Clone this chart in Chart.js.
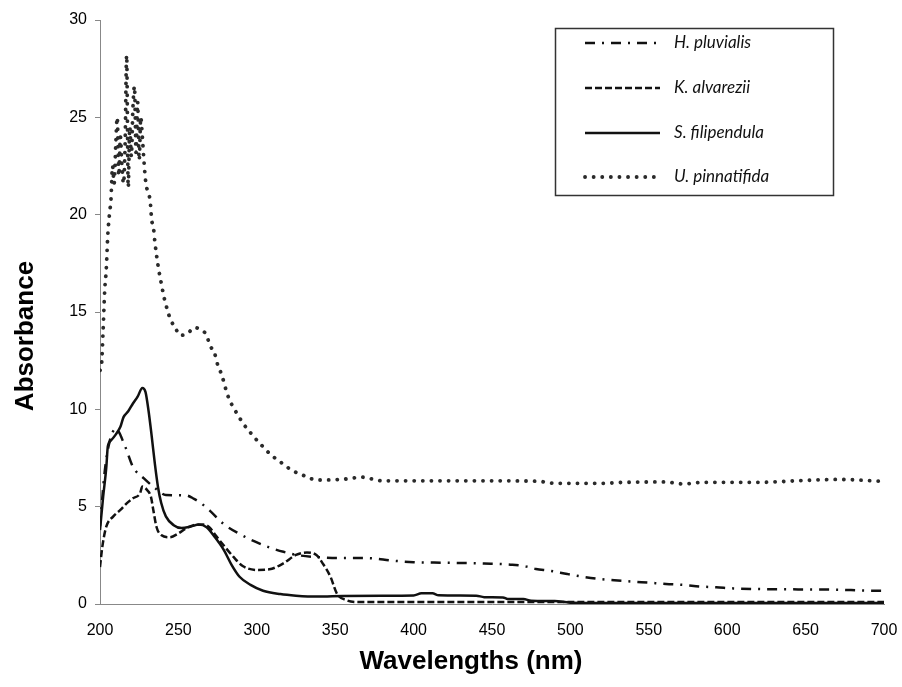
<!DOCTYPE html>
<html>
<head>
<meta charset="utf-8">
<script src="https://cdn.jsdelivr.net/npm/chart.js@4.4.1/dist/chart.umd.min.js"></script>
<style>
    html, body { margin: 0; padding: 0; background: #fff; }
    #wrap { width: 902px; height: 687px; position: relative; }
</style>
</head>
<body>
<div id="wrap"><canvas id="grafico"></canvas></div>
<script>
// ==========================================
// Absorbance spectra of four algal extracts
// ==========================================

const xTicks = [200, 250, 300, 350, 400, 450, 500, 550, 600, 650, 700];
const yTicks = [0, 5, 10, 15, 20, 25, 30];

const nomes = ["H. pluvialis", "K. alvarezii", "S. filipendula", "U. pinnatifida"];

// H. pluvialis (dash-dot)
const hpNm  = [200, 203, 206, 210, 216, 221, 228, 236, 242, 255, 260, 264, 270, 279, 289, 299, 309, 317, 327, 340,
               352, 365, 375, 385, 400, 420, 445, 463, 472, 478, 487, 498, 508, 519, 528, 540, 551, 561, 572, 583,
               593, 604, 625, 646, 668, 689, 700];
const hpAbs = [4.0, 6.8, 8.3, 9.0, 8.1, 7.05, 6.45, 5.9, 5.6, 5.58, 5.4, 5.2, 4.8, 4.1, 3.6, 3.2, 2.88, 2.68, 2.5, 2.4,
               2.36, 2.36, 2.34, 2.24, 2.15, 2.12, 2.08, 2.02, 1.92, 1.8, 1.71, 1.54, 1.4, 1.28, 1.22, 1.15, 1.09, 1.03, 0.98, 0.9,
               0.86, 0.8, 0.76, 0.75, 0.74, 0.69, 0.68];

// K. alvarezii (dashed)
const kaNm  = [200, 201.5, 204, 208.5, 213, 217, 221, 225.5, 227, 230, 232.5, 234, 236, 239, 244.5, 250, 255, 260.5, 266, 270,
               274, 280, 285, 291, 300, 308, 317, 325, 332, 338, 342, 347, 351, 357, 365, 400, 500, 600, 700];
const kaAbs = [1.9, 2.95, 3.97, 4.5, 4.83, 5.17, 5.43, 5.68, 6.03, 5.86, 5.5, 4.83, 3.97, 3.54, 3.43, 3.63, 3.89, 4.06, 4.08, 3.92,
               3.5, 2.9, 2.43, 1.95, 1.75, 1.78, 2.09, 2.52, 2.64, 2.52, 2.09, 1.4, 0.55, 0.2, 0.1, 0.1, 0.1, 0.1, 0.1];

// S. filipendula (solid)
const sfNm  = [200, 202, 204, 205, 207, 210, 213, 215, 218, 221, 224, 227, 229, 231, 233, 235, 237, 239, 242, 247,
               252, 258, 263, 268, 273, 279, 284, 289, 296, 304, 315, 325, 338, 355, 380, 400, 405, 412, 416, 440,
               445, 457, 460, 470, 475, 490, 500, 550, 600, 650, 700];
const sfAbs = [3.8, 5.5, 7.0, 8.1, 8.4, 8.7, 9.1, 9.6, 9.9, 10.3, 10.65, 11.1, 10.9, 9.9, 8.6, 7.2, 6.0, 5.2, 4.5, 4.05,
               3.9, 3.98, 4.08, 3.94, 3.46, 2.77, 2.0, 1.4, 0.98, 0.68, 0.51, 0.43, 0.38, 0.41, 0.43, 0.44, 0.55, 0.55, 0.45, 0.43,
               0.35, 0.34, 0.26, 0.26, 0.17, 0.15, 0.07, 0.05, 0.05, 0.05, 0.05];

// U. pinnatifida (dotted)
const upNm  = [200, 201, 202, 203, 204, 205, 206, 207, 208, 209, 210, 211, 212, 213, 214, 215, 216, 217, 218, 219,
               220, 221, 222, 223, 224, 225, 226, 227, 228, 229, 230, 232, 233, 234, 235, 237, 239, 241, 243, 245,
               248, 251, 256, 260, 264, 268, 270, 273, 275, 277, 279, 280, 282, 285, 288, 291, 295, 298, 302, 306,
               310, 315, 319, 324, 330, 334, 340, 350, 360, 366, 375, 380, 400, 450, 480, 490, 520, 535, 560, 572,
               585, 600, 620, 650, 670, 700];
const upAbs = [12.0, 12.3, 14.1, 16.1, 17.2, 19.0, 20.0, 20.8, 22.5, 21.6, 23.5, 25.0, 22.0, 24.0, 22.5, 21.6, 23.6, 28.2, 21.4, 24.5,
               23.0, 25.5, 26.6, 23.2, 25.8, 22.8, 25.0, 24.0, 22.8, 21.8, 21.3, 20.7, 19.7, 19.4, 18.6, 17.4, 16.5, 15.7, 15.1, 14.6,
               14.2, 13.8, 13.9, 14.2, 14.1, 13.8, 13.3, 12.9, 12.3, 11.9, 11.4, 11.1, 10.6, 10.1, 9.7, 9.3, 8.9, 8.6, 8.25, 7.9,
               7.6, 7.3, 7.05, 6.8, 6.6, 6.45, 6.37, 6.38, 6.45, 6.52, 6.4, 6.33, 6.33, 6.33, 6.3, 6.2, 6.2, 6.25, 6.27, 6.17,
               6.25, 6.25, 6.25, 6.35, 6.4, 6.3];

const pontos = (xs, ys) => xs.map((x, i) => ({ x: x, y: ys[i] }));

const estilos = [
    { dash: [10, 7, 2, 7], width: 2.5, cap: "butt",  cor: "#111" },
    { dash: [7, 3],        width: 2.5, cap: "butt",  cor: "#111" },
    { dash: [],            width: 2.5, cap: "butt",  cor: "#111" },
    { dash: [0.1, 8.5],    width: 3.8, cap: "round", cor: "#2a2a2a" }
];

const series = [pontos(hpNm, hpAbs), pontos(kaNm, kaAbs), pontos(sfNm, sfAbs), pontos(upNm, upAbs)];

// legenda desenhada dentro da área do gráfico
const legendaBox = {
    id: "legendaBox",
    afterDatasetsDraw(chart) {
        const ctx = chart.ctx;
        ctx.save();
        ctx.strokeStyle = "#333";
        ctx.lineWidth = 1.5;
        ctx.strokeRect(555.5, 28.5, 278, 167);
        const linhasY = [43, 88, 133, 177];
        chart.data.datasets.forEach((ds, i) => {
            const y = linhasY[i];
            ctx.beginPath();
            ctx.setLineDash(ds.borderDash);
            ctx.lineCap = ds.borderCapStyle;
            ctx.lineWidth = ds.borderWidth;
            ctx.strokeStyle = ds.borderColor;
            ctx.moveTo(585, y);
            ctx.lineTo(660, y);
            ctx.stroke();
            ctx.setLineDash([]);
            ctx.fillStyle = "#111";
            ctx.font = "italic 17px Lato, 'Open Sans', sans-serif";
            ctx.textBaseline = "middle";
            ctx.textAlign = "left";
            ctx.fillText(ds.label, 674, y);
        });
        ctx.restore();
    }
};

// títulos dos eixos
const titulosEixos = {
    id: "titulosEixos",
    afterDraw(chart) {
        const ctx = chart.ctx;
        ctx.save();
        ctx.fillStyle = "#000";
        ctx.font = "bold 26px 'Liberation Sans', Arial, sans-serif";
        ctx.textAlign = "center";
        ctx.textBaseline = "middle";
        ctx.translate(26, 336);
        ctx.rotate(-Math.PI / 2);
        ctx.fillText("Absorbance", 0, 0);
        ctx.restore();

        ctx.save();
        ctx.fillStyle = "#000";
        ctx.font = "bold 26px 'Liberation Sans', Arial, sans-serif";
        ctx.textAlign = "center";
        ctx.textBaseline = "middle";
        ctx.fillText("Wavelengths (nm)", 471, 662);
        ctx.restore();
    }
};

const fonteTicks = { family: "'Liberation Sans', Arial, sans-serif", size: 16 };

new Chart(document.getElementById("grafico"), {
    type: "line",
    data: {
        datasets: series.map((d, i) => ({
            label: nomes[i],
            data: d,
            borderColor: estilos[i].cor,
            borderWidth: estilos[i].width,
            borderDash: estilos[i].dash,
            borderCapStyle: estilos[i].cap,
            borderJoinStyle: "round",
            pointRadius: 0,
            fill: false,
            cubicInterpolationMode: "monotone"
        }))
    },
    options: {
        responsive: true, maintainAspectRatio: false, animation: false,
        layout: { padding: { left: 0, right: 18, top: 20, bottom: 0 } },
        plugins: { legend: { display: false }, tooltip: { enabled: false } },
        scales: {
            x: {
                type: "linear", min: 200, max: 700,
                afterBuildTicks: s => { s.ticks = xTicks.map(v => ({ value: v })); },
                afterFit: s => { s.height = 83; s.paddingLeft = 0; s.paddingRight = 0; },
                grid: { display: true, drawOnChartArea: false, drawTicks: false, color: "#888" },
                border: { display: true, color: "#888", width: 1 },
                ticks: { color: "#000", font: fonteTicks, padding: 17, maxRotation: 0, autoSkip: false }
            },
            y: {
                min: 0, max: 30,
                afterBuildTicks: s => { s.ticks = yTicks.map(v => ({ value: v })); },
                afterFit: s => { s.width = 100; },
                grid: { display: true, drawOnChartArea: false, drawTicks: true, tickLength: 5, color: "#888" },
                border: { display: true, color: "#888", width: 1 },
                ticks: { color: "#000", font: fonteTicks, padding: 8, autoSkip: false }
            }
        }
    },
    plugins: [legendaBox, titulosEixos]
});
</script>
</body>
</html>
